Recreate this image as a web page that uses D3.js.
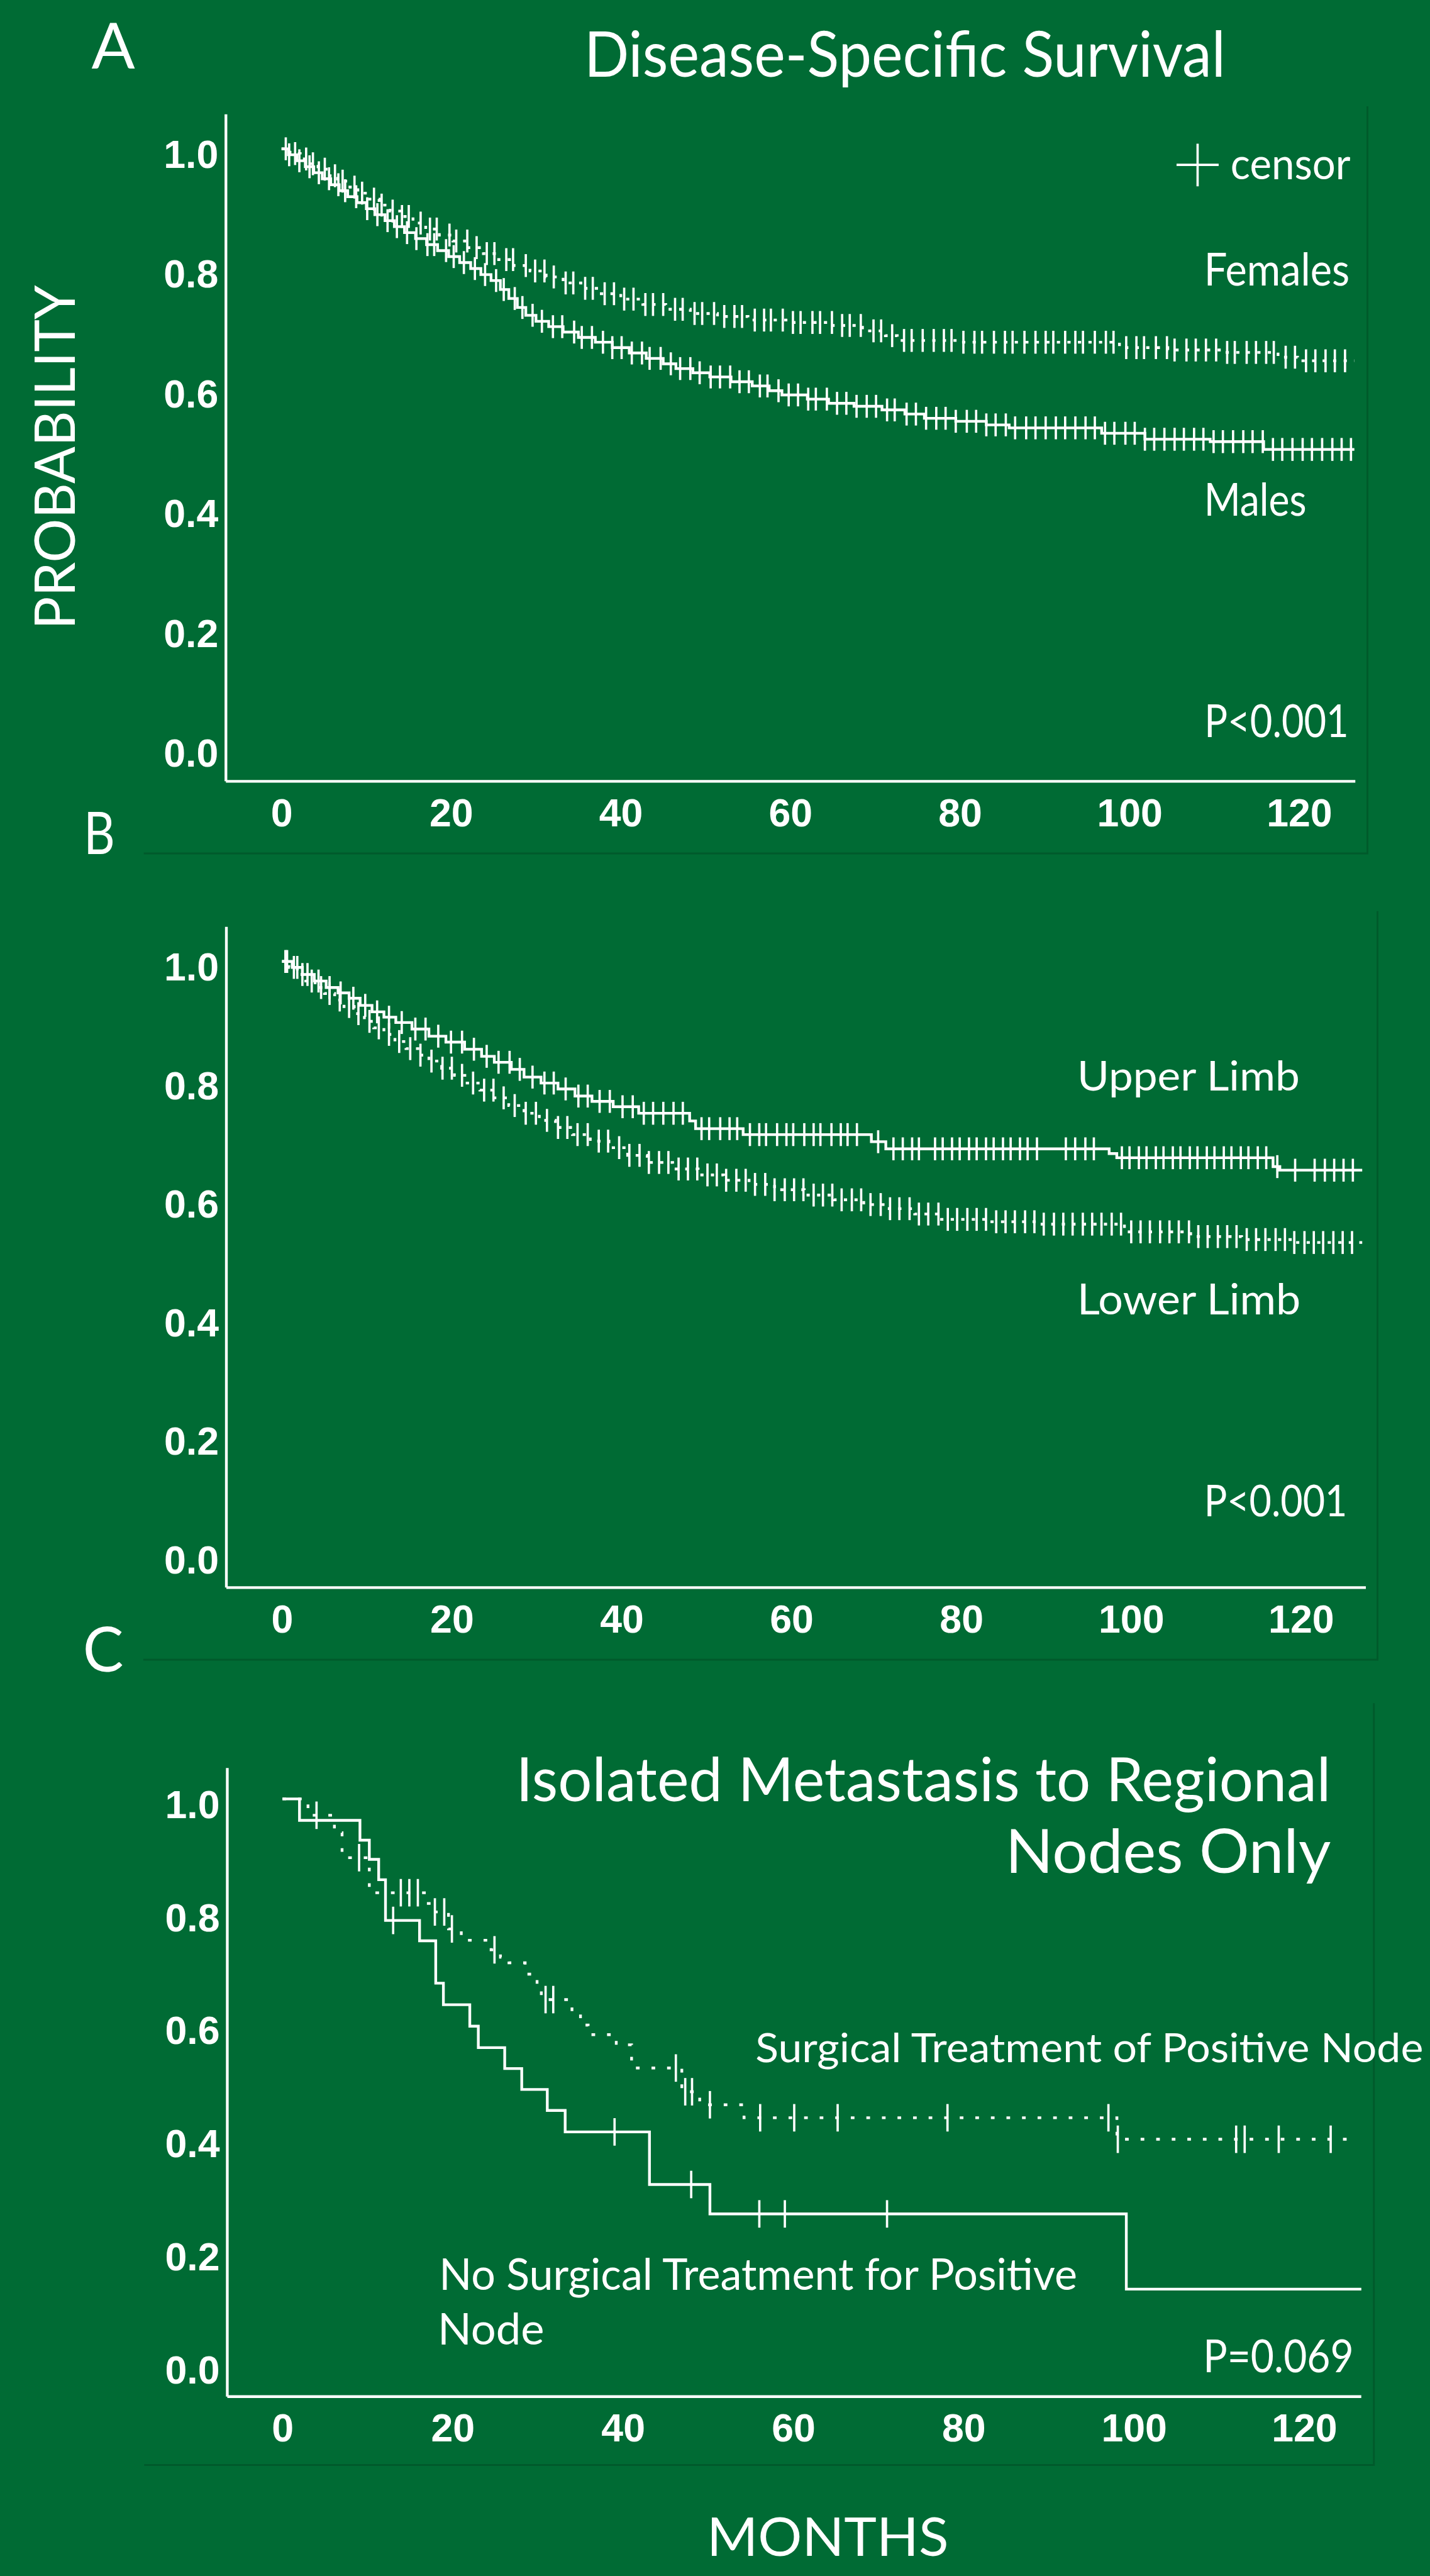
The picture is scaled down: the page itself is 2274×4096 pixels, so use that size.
<!DOCTYPE html>
<html>
<head>
<meta charset="utf-8">
<script src="https://cdn.jsdelivr.net/npm/d3@7"></script>
<style>
	html, body { margin: 0; padding: 0; background: #006b34; }
	svg { display: block; }
</style>
</head>
<body>
<div id="main"></div>
<script>
// ticks shared by the three panels
const months = [0, 20, 40, 60, 80, 100, 120];
const probTicks = [0, 0.2, 0.4, 0.6, 0.8, 1.0];

// A: disease-specific survival by sex (step times in months, survival after step)
const femaleTime = [0, 1.0, 2.2, 3.1, 4.3, 5.5, 6.6, 7.8, 9.0, 10.2, 11.5, 12.8, 14.0, 15.5, 17.0, 18.6, 20.2, 22.0, 23.8, 25.6, 27.4, 29.3, 31.2, 33.2, 35.3, 37.5, 40.0, 42.6, 45.3, 48.2, 51.4, 55.0, 60.0, 65.0, 68.5, 71.2, 72.6, 80.0, 98.8, 104.5, 111.0, 117.5, 119.8, 126.5];
const femaleSurv = [1.0, 0.992, 0.983, 0.975, 0.966, 0.955, 0.946, 0.936, 0.926, 0.916, 0.906, 0.896, 0.887, 0.876, 0.866, 0.856, 0.846, 0.835, 0.825, 0.815, 0.805, 0.796, 0.786, 0.776, 0.767, 0.758, 0.749, 0.74, 0.732, 0.725, 0.72, 0.714, 0.71, 0.705, 0.696, 0.688, 0.68, 0.677, 0.668, 0.664, 0.66, 0.652, 0.646, 0.646];
const femaleCensor = [0.5, 1.6, 2.9, 3.7, 5.1, 6.3, 7.2, 8.6, 9.5, 10.9, 11.8, 13.1, 14.2, 15.0, 16.4, 17.5, 18.3, 19.8, 20.6, 21.9, 23.0, 24.2, 25.1, 26.5, 27.3, 28.8, 29.9, 31.0, 32.1, 33.5, 34.4, 35.8, 36.7, 38.1, 39.2, 40.4, 41.5, 42.9, 43.8, 45.0, 46.4, 47.3, 48.7, 49.6, 51.0, 52.2, 53.4, 54.3, 55.8, 56.9, 57.7, 59.1, 60.3, 61.2, 62.6, 63.5, 64.9, 66.1, 67.0, 68.3, 69.8, 70.7, 72.0, 73.4, 74.3, 75.6, 76.9, 78.1, 79.0, 80.4, 81.7, 82.6, 84.0, 85.3, 86.2, 87.6, 88.9, 90.1, 91.0, 92.4, 93.6, 94.5, 95.9, 97.2, 98.1, 99.6, 100.8, 101.7, 103.1, 104.4, 105.3, 106.7, 107.8, 109.0, 110.2, 111.5, 112.4, 113.8, 114.9, 116.1, 117.0, 118.4, 119.5, 120.8, 121.9, 123.1, 124.2, 125.4];
const maleTime = [0, 0.8, 1.8, 2.8, 3.8, 4.8, 5.8, 6.8, 7.8, 8.9, 10.0, 11.0, 12.2, 13.3, 14.5, 15.8, 17.1, 18.4, 19.7, 21.0, 22.3, 23.5, 24.7, 25.8, 26.8, 27.8, 28.8, 30.0, 31.5, 33.2, 35.0, 37.0, 39.0, 41.0, 43.0, 45.0, 46.5, 48.5, 50.5, 53.0, 55.5, 57.5, 59.0, 62.0, 64.5, 67.5, 70.8, 73.5, 75.8, 79.5, 83.1, 85.8, 96.7, 101.8, 109.5, 115.8, 126.5];
const maleSurv = [1.0, 0.99, 0.98, 0.97, 0.96, 0.95, 0.94, 0.93, 0.92, 0.91, 0.9, 0.89, 0.88, 0.87, 0.86, 0.85, 0.84, 0.83, 0.82, 0.81, 0.8, 0.79, 0.78, 0.765, 0.75, 0.735, 0.722, 0.712, 0.703, 0.694, 0.685, 0.677, 0.668, 0.659, 0.65, 0.641, 0.633, 0.626, 0.619, 0.611, 0.604, 0.596, 0.589, 0.582, 0.575, 0.57, 0.564, 0.557, 0.55, 0.545, 0.539, 0.534, 0.525, 0.515, 0.511, 0.498, 0.498];
const maleCensor = [0.9, 2.1, 3.3, 4.4, 5.6, 6.7, 7.5, 8.8, 10.1, 11.3, 12.5, 13.6, 14.8, 15.9, 17.2, 18.0, 19.4, 20.3, 21.5, 22.8, 24.0, 25.3, 26.2, 27.5, 28.4, 29.6, 30.7, 32.0, 33.1, 34.5, 35.4, 36.6, 37.9, 39.0, 40.1, 41.3, 42.5, 43.4, 44.7, 45.9, 47.0, 48.2, 49.3, 50.6, 51.7, 52.9, 54.0, 55.1, 56.4, 57.3, 58.6, 59.8, 60.9, 62.1, 63.0, 64.3, 65.5, 66.6, 67.8, 69.0, 70.1, 71.4, 72.3, 73.7, 74.8, 76.0, 77.2, 78.3, 79.5, 80.8, 81.9, 83.1, 84.2, 85.4, 86.5, 87.8, 88.9, 90.1, 91.3, 92.4, 93.6, 94.8, 95.9, 97.1, 98.2, 99.5, 100.6, 101.8, 102.9, 104.1, 105.3, 106.4, 107.6, 108.7, 109.9, 111.0, 112.2, 113.4, 114.5, 115.7, 116.9, 118.0, 119.2, 120.4, 121.5, 122.7, 123.9, 125.0, 126.1];

// B: by site of primary
const upperTime = [0, 1.2, 2.4, 3.8, 5.2, 6.6, 7.9, 9.2, 10.6, 12.0, 13.4, 15.3, 17.3, 19.3, 21.5, 23.5, 25.0, 27.0, 28.5, 30.5, 32.5, 34.5, 36.5, 39.0, 42.0, 48.0, 48.7, 54.3, 69.4, 71.1, 97.4, 98.3, 116.7, 117.5, 127.2];
const upperSurv = [1.0, 0.99, 0.978, 0.967, 0.956, 0.947, 0.938, 0.926, 0.915, 0.906, 0.897, 0.886, 0.874, 0.864, 0.852, 0.84, 0.83, 0.818, 0.805, 0.795, 0.785, 0.773, 0.764, 0.755, 0.744, 0.731, 0.718, 0.708, 0.696, 0.684, 0.676, 0.669, 0.654, 0.648, 0.648];
const upperCensor = [0.6, 1.8, 3.0, 4.3, 5.6, 6.9, 8.4, 9.8, 11.2, 12.6, 14.1, 15.7, 16.9, 18.4, 19.9, 21.2, 22.6, 24.1, 25.5, 26.8, 28.0, 29.5, 30.9, 32.0, 33.4, 34.9, 36.0, 37.4, 38.6, 40.1, 41.3, 42.6, 43.7, 44.9, 46.1, 47.2, 49.4, 50.3, 51.6, 52.7, 53.6, 55.1, 56.2, 57.0, 58.3, 59.4, 60.2, 61.5, 62.6, 63.4, 64.7, 65.8, 66.6, 67.7, 70.2, 72.0, 73.1, 74.2, 75.0, 76.9, 77.8, 78.9, 79.8, 80.9, 81.8, 82.9, 83.8, 84.9, 85.8, 86.9, 87.8, 88.9, 92.3, 93.4, 94.6, 95.6, 98.9, 99.8, 100.9, 101.8, 102.9, 103.8, 104.9, 105.8, 106.9, 107.8, 108.9, 109.8, 110.9, 111.8, 112.9, 113.8, 114.9, 115.9, 117.2, 119.3, 121.6, 122.8, 123.9, 125.0, 126.1];
const lowerTime = [0, 0.8, 1.8, 2.8, 3.9, 5.0, 6.2, 7.3, 8.5, 9.7, 10.8, 12.0, 13.3, 14.6, 16.0, 17.3, 18.8, 20.3, 21.8, 23.3, 25.0, 26.7, 28.5, 30.3, 32.2, 34.2, 36.3, 38.5, 40.7, 43.0, 46.0, 49.0, 52.0, 55.0, 58.0, 61.5, 65.0, 68.5, 71.5, 74.5, 77.5, 83.0, 89.5, 99.2, 107.0, 113.0, 119.0, 127.2];
const lowerSurv = [1.0, 0.99, 0.978, 0.967, 0.956, 0.946, 0.935, 0.924, 0.912, 0.899, 0.888, 0.877, 0.865, 0.853, 0.842, 0.832, 0.82, 0.808, 0.795, 0.783, 0.77, 0.757, 0.744, 0.732, 0.72, 0.708, 0.697, 0.686, 0.673, 0.661, 0.65, 0.64, 0.631, 0.624, 0.615, 0.606, 0.598, 0.59, 0.583, 0.574, 0.565, 0.561, 0.557, 0.544, 0.536, 0.531, 0.526, 0.526];
const lowerCensor = [0.4, 1.4, 2.4, 3.5, 4.6, 5.6, 6.8, 7.9, 9.0, 10.3, 11.4, 12.6, 13.8, 15.1, 16.3, 17.6, 18.9, 20.0, 21.2, 22.5, 23.8, 24.9, 26.1, 27.4, 28.7, 29.9, 31.2, 32.5, 33.6, 34.8, 36.0, 37.3, 38.4, 39.7, 40.9, 42.1, 43.2, 44.4, 45.5, 46.7, 47.8, 48.9, 50.1, 51.2, 52.3, 53.5, 54.6, 55.7, 56.9, 58.0, 59.2, 60.3, 61.4, 62.6, 63.7, 64.8, 65.9, 67.1, 68.2, 69.3, 70.5, 71.6, 72.7, 73.9, 75.0, 76.1, 77.3, 78.4, 79.5, 80.7, 81.8, 82.9, 84.1, 85.2, 86.3, 87.5, 88.6, 89.7, 90.9, 92.0, 93.1, 94.3, 95.4, 96.5, 97.7, 98.8, 100.0, 101.1, 102.2, 103.4, 104.5, 105.6, 106.8, 107.9, 109.0, 110.2, 111.3, 112.4, 113.6, 114.7, 115.8, 117.0, 118.1, 119.2, 120.4, 121.5, 122.6, 123.8, 124.9, 126.0];

// C: regional node metastasis, surgical vs no surgical treatment
const surgTime = [0, 3.0, 6.1, 7.0, 10.2, 16.9, 17.5, 19.5, 21.0, 24.5, 25.6, 26.6, 28.5, 29.9, 30.4, 34.0, 35.0, 35.9, 39.2, 41.0, 46.9, 49.0, 54.2, 98.0, 126.2];
const surgSurv = [1.0, 0.971, 0.94, 0.896, 0.834, 0.815, 0.8, 0.77, 0.75, 0.733, 0.72, 0.71, 0.69, 0.67, 0.645, 0.62, 0.6, 0.583, 0.565, 0.524, 0.482, 0.459, 0.436, 0.398, 0.398];
const surgCensor = [4.0, 9.0, 13.9, 14.9, 15.9, 17.9, 19.0, 19.9, 24.9, 30.9, 31.8, 46.2, 47.3, 48.1, 50.2, 56.1, 60.1, 65.2, 78.1, 97.0, 98.1, 112.0, 113.0, 117.0, 123.1];
const noSurgTime = [0, 2.0, 9.1, 10.2, 11.3, 12.1, 16.1, 18.0, 18.9, 22.0, 23.0, 26.1, 28.1, 31.1, 33.2, 43.1, 50.2, 99.1, 126.7];
const noSurgSurv = [1.0, 0.962, 0.927, 0.893, 0.857, 0.785, 0.749, 0.674, 0.636, 0.598, 0.56, 0.523, 0.486, 0.449, 0.411, 0.318, 0.266, 0.133, 0.133];
const noSurgCensor = [13.0, 39.0, 48.0, 56.0, 59.0, 71.0];

const W = 3122, H = 5624, K = 0.728;
const green = "#006b34", frame = "#005a2b";
const labelFont = "Lato, 'Open Sans', sans-serif";
const tickFont = "'Liberation Sans', Arial, sans-serif";

const svg = d3
	.select("#main")
	.append("svg")
	.attr("width", Math.round(W * K))
	.attr("height", Math.round(H * K));

const root = svg.append("g").attr("transform", `scale(${K})`);
root.append("rect").attr("width", W).attr("height", H).attr("fill", green);

// layout of each panel, in reference pixels
const panels = [
	{ x0: 615, ppm: 18.525, yOne: 325, yZero: 1633, left: 493, top: 249, bottom: 1706, right: 2960, frameTop: 232, frameRight: 2987, frameBottom: 1864, frameLeft: 314 },
	{ x0: 616, ppm: 18.55, yOne: 2100, yZero: 3395, left: 494, top: 2024, bottom: 3467, right: 2983, frameTop: 1990, frameRight: 3009, frameBottom: 3625, frameLeft: 313 },
	{ x0: 617, ppm: 18.6, yOne: 3929, yZero: 5164, left: 496, top: 3861, bottom: 5234, right: 2973, frameTop: 3720, frameRight: 3001, frameBottom: 5384, frameLeft: 315 },
];

const survAt = (times, surv, t) => {
	let s = surv[0];
	times.forEach((tt, i) => {
		if (tt <= t) s = surv[i];
	});
	return s;
};

const makePanel = (p) => {
	const g = root.append("g");
	const x = d3.scaleLinear().domain([0, 120]).range([p.x0, p.x0 + 120 * p.ppm]);
	const y = d3.scaleLinear().domain([0, 1]).range([p.yZero, p.yOne]);

	// faint frame of the original plot box
	g.append("path")
		.attr("d", `M${p.frameRight},${p.frameTop}V${p.frameBottom}H${p.frameLeft}`)
		.attr("fill", "none")
		.attr("stroke", frame)
		.attr("stroke-width", 4);

	const xAxisScale = x.copy().domain([x.invert(p.left), x.invert(p.right)]).range([p.left, p.right]);
	const yAxisScale = y.copy().domain([y.invert(p.bottom), y.invert(p.top)]).range([p.bottom, p.top]);

	const yAxis = g
		.append("g")
		.attr("transform", `translate(${p.left},0)`)
		.call(d3.axisLeft(yAxisScale).tickValues(probTicks).tickSize(0).tickPadding(16).tickFormat(d3.format(".1f")));
	const xAxis = g
		.append("g")
		.attr("transform", `translate(0,${p.bottom})`)
		.call(d3.axisBottom(xAxisScale).tickValues(months).tickSize(0).tickPadding(38));

	[yAxis, xAxis].forEach((a) => {
		a.attr("font-family", tickFont).attr("font-size", 86).attr("font-weight", 700);
		a.select(".domain").attr("stroke", "#fff").attr("stroke-width", 6);
		a.selectAll("text").attr("fill", "#fff");
	});
	yAxis.selectAll("text").attr("dy", "0.48em");
	return { g, x, y };
};

const drawCurve = (panel, times, surv, censor, dash, half) => {
	const { g, x, y } = panel;
	const line = d3
		.line()
		.x((d) => x(d[0]))
		.y((d) => y(d[1]))
		.curve(d3.curveStepAfter);
	g.append("path")
		.attr("d", line(d3.zip(times, surv)))
		.attr("fill", "none")
		.attr("stroke", "#fff")
		.attr("stroke-width", 6)
		.attr("stroke-dasharray", dash);
	g.append("g")
		.selectAll("line")
		.data(censor)
		.join("line")
		.attr("x1", (d) => x(d))
		.attr("x2", (d) => x(d))
		.attr("y1", (d) => y(survAt(times, surv, d)) - half)
		.attr("y2", (d) => y(survAt(times, surv, d)) + half)
		.attr("stroke", "#fff")
		.attr("stroke-width", 5);
};

// text placed by its left edge, baseline, width and cap height
const label = (text, x, baseline, width, cap, weight = 400) => {
	root.append("text")
		.attr("x", x)
		.attr("y", baseline)
		.attr("font-family", labelFont)
		.attr("font-weight", weight)
		.attr("font-size", cap / 0.7165)
		.attr("fill", "#fff")
		.attr("textLength", width)
		.attr("lengthAdjust", "spacingAndGlyphs")
		.text(text);
};

const pA = makePanel(panels[0]);
const pB = makePanel(panels[1]);
const pC = makePanel(panels[2]);

drawCurve(pA, maleTime, maleSurv, maleCensor, null, 25);
drawCurve(pA, femaleTime, femaleSurv, femaleCensor, "7 16", 25);
drawCurve(pB, upperTime, upperSurv, upperCensor, null, 25);
drawCurve(pB, lowerTime, lowerSurv, lowerCensor, "7 16", 25);
drawCurve(pC, noSurgTime, noSurgSurv, noSurgCensor, null, 30);
drawCurve(pC, surgTime, surgSurv, surgCensor, "8 26", 30);

// censor legend cross
root.append("path")
	.attr("d", "M2570,360H2662M2616,314V407")
	.attr("stroke", "#fff")
	.attr("stroke-width", 5);

label("A", 200, 150, 95, 100);
label("B", 183, 1866, 68, 92);
label("C", 181, 3651, 89, 98);
label("Disease-Specific Survival", 1276, 168, 1401, 99);
label("censor", 2688, 391, 262, 68);
label("Females", 2630, 624, 318, 70);
label("Males", 2630, 1126, 224, 71);
label("P<0.001", 2631, 1610, 315, 70);
label("Upper Limb", 2353, 2382, 486, 65);
label("Lower Limb", 2353, 2871, 488, 66);
label("P<0.001", 2630, 3312, 313, 68);
label("Isolated Metastasis to Regional", 1127, 3934, 1780, 96);
label("Nodes Only", 2196, 4090, 711, 96);
label("Surgical Treatment of Positive Node", 1650, 4504, 1459, 63);
label("No Surgical Treatment for Positive", 959, 5001, 1394, 68);
label("Node", 956, 5121, 233, 68);
label("P=0.069", 2628, 5181, 329, 70);
label("MONTHS", 1544, 5582, 528, 84);

root.append("text")
	.attr("transform", "translate(163,1375) rotate(-90)")
	.attr("font-family", labelFont)
	.attr("font-size", 88 / 0.7165)
	.attr("fill", "#fff")
	.attr("textLength", 752)
	.attr("lengthAdjust", "spacingAndGlyphs")
	.text("PROBABILITY");
</script>
</body>
</html>
